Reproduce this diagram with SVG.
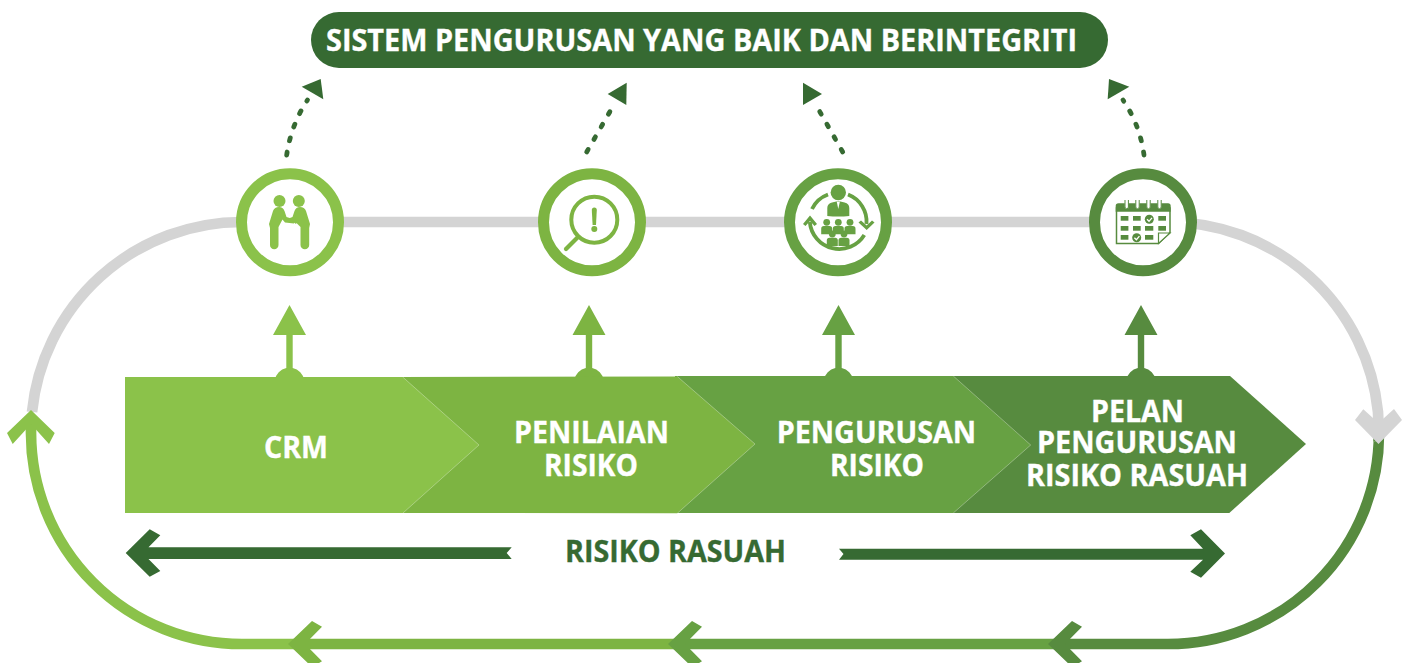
<svg xmlns="http://www.w3.org/2000/svg" width="1404" height="663" viewBox="0 0 1404 663">
<style>
text{font-family:"Open Sans","Liberation Sans",sans-serif;font-weight:700;font-size:30px;fill:#fff;stroke:#fff;stroke-width:.35}
text.dark{fill:#366a32;stroke:#366a32}
.dark{fill:#366a32}.dk{stroke:#366a32}
.c1{fill:#8bc24a}.c2{fill:#7db442}.c3{fill:#67a143}.c4{fill:#578b3f}
.s1{stroke:#8bc24a}.s2{stroke:#7db442}.s3{stroke:#67a143}.s4{stroke:#578b3f}
.track{fill:none;stroke-width:10.7}
.ring{fill:#fff;stroke-width:11}
.dots{fill:none;stroke:#366a32;stroke-width:4.800;stroke-linecap:round;stroke-dasharray:3 11.500}
.edge{fill:none;stroke:#fff;stroke-opacity:.45;stroke-width:.7}
.thin{fill:none;stroke-linecap:butt}
</style>
<defs>
<path id="chev" d="M0 0L24-23 34-17.3 17 0 34 17.3 24 23Z"/>
<path id="up" d="M0-75L16.500-45H3.200V-12A15 15 0 0 1 14.700 0H-14.700A15 15 0 0 1-3.200-12V-45H-16.500Z"/>
<g id="p"><circle cx="0" cy="0" r="3.400"/><path d="M-5.500 12V6.500Q-5.500 3.800-2.800 3.800H2.800Q5.500 3.800 5.500 6.500V12Z"/></g>
</defs>

<g id="connectors">
<path class="track" stroke="#d4d4d4" d="M242 222A211 211 0 0 0 32 412"/>
<path class="track" stroke="#d4d4d4" d="M242 222H1168A211 211 0 0 1 1378 412L1378.500 425"/>
<path class="track s4" d="M1378.500 442L1379 433A211 211 0 0 1 1168 644H1060"/>
<path class="track s3" d="M1054 644H680"/>
<path class="track s2" d="M674 644H300"/>
<path class="track s1" d="M294 644H242A211 211 0 0 1 31 433V420"/>
<polygon class="c1" points="31,410 7,433 12.700,444 31,424 49,444 54.700,433"/>
<polygon fill="#d4d4d4" points="1378.500,444 1355,420 1363.300,409.300 1378.500,423 1394,409 1402,420"/>
<use href="#chev" x="1048" y="644" class="c4"/>
<use href="#chev" x="668" y="644" class="c3"/>
<use href="#chev" x="288" y="644" class="c2"/>

<path class="dots" d="M286.700 155Q291 125 307.500 100"/>
<polygon class="dark" points="301.700,86.700 320.700,79 323.300,99.300"/>
<path class="dots" d="M586.700 152L612 108"/>
<polygon class="dark" points="607.700,94 626.700,82.700 626.300,105"/>
<path class="dots" d="M842.700 152L817.700 108"/>
<polygon class="dark" points="803,82.700 822,94 803,105"/>
<path class="dots" d="M1144 155Q1140 125 1123 100"/>
<polygon class="dark" points="1109,79 1129.300,86.700 1107.700,99.300"/>

<use href="#up" x="289.500" y="380" class="c1"/>
<use href="#up" x="589" y="380" class="c2"/>
<use href="#up" x="838.500" y="380" class="c3"/>
<use href="#up" x="1141" y="380" class="c4"/>

<path class="dark" d="M125.700 553L149.700 529.300 160.300 535.300 148.500 547.300H511.700L506.700 553 511.700 559H148.500L160.300 571 149.700 576.700Z"/>
<path class="dark" d="M1225 553.500L1201 529.300 1190.300 535.300 1203 548.700H839L843.500 554 839 559.700H1203L1190.300 571.700 1201 577.700Z"/>
</g>

<g id="title">
<rect x="311" y="12" width="797" height="56" rx="28" class="dark"/>
<text x="326" y="51" textLength="751" lengthAdjust="spacingAndGlyphs">SISTEM PENGURUSAN YANG BAIK DAN BERINTEGRITI</text>
</g>

<g id="step4">
<polygon class="c4" points="950,376 1230,376 1306,444 1229.300,513 950,513"/>
<text><tspan x="1091" y="421.700" textLength="93" lengthAdjust="spacingAndGlyphs">PELAN</tspan><tspan x="1037" y="453.300" textLength="200" lengthAdjust="spacingAndGlyphs">PENGURUSAN</tspan><tspan x="1026" y="485.700" textLength="222" lengthAdjust="spacingAndGlyphs">RISIKO RASUAH</tspan></text>
</g>
<g id="step3">
<polygon class="c3" points="675,376 953.300,376 1030.700,445 953.300,513 675,513"/>
<path class="edge" d="M953.300 376L1030.700 445 953.300 513"/>
<text><tspan x="776.700" y="443.300" textLength="199.500" lengthAdjust="spacingAndGlyphs">PENGURUSAN</tspan><tspan x="830" y="475.700" textLength="94" lengthAdjust="spacingAndGlyphs">RISIKO</tspan></text>
</g>
<g id="step2">
<polygon class="c2" points="400,377 677.300,376.500 755,444 677.300,513.300 400,513"/>
<path class="edge" d="M677.300 376.500L755 444 677.300 513.300"/>
<text><tspan x="514" y="443" textLength="155" lengthAdjust="spacingAndGlyphs">PENILAIAN</tspan><tspan x="544" y="476" textLength="94" lengthAdjust="spacingAndGlyphs">RISIKO</tspan></text>
</g>
<g id="step1">
<polygon class="c1" points="125,377 402.700,377 479,445 403,513 125,513"/>
<path class="edge" d="M402.700 377L479 445 403 513"/>
<text x="264" y="458" textLength="64" lengthAdjust="spacingAndGlyphs">CRM</text>
</g>

<g id="label-risiko-rasuah">
<text class="dark" x="565" y="562.300" textLength="221" lengthAdjust="spacingAndGlyphs">RISIKO RASUAH</text>
</g>

<g id="node-crm">
<circle class="ring s1" cx="290" cy="222.300" r="48.500"/>
<g class="c1">
<circle cx="279.500" cy="201" r="6"/><circle cx="298.800" cy="201" r="6"/>
<path d="M269 224L273 211Q274.500 207 279 207Q283 207 284.500 211L286.500 217 293 219Q296 221 294 223.500L285 222.500 282.500 219.500 278.500 227V245A4.200 4.200 0 0 1 270 245V228Z"/>
<path d="M310 224L306 211Q304.500 207 300 207Q296 207 294.500 211L292.500 217 288.500 218.500 296 224 296.500 223 300.500 227V245A4.200 4.200 0 0 0 309.200 245V228Z"/>
</g>
</g>

<g id="node-penilaian">
<circle class="ring s2" cx="592" cy="222.300" r="48.500"/>
<circle cx="594.300" cy="219.700" r="23" fill="none" stroke-width="4" class="s2"/>
<path class="s2" d="M577 238L566 249" stroke-width="4.200" stroke-linecap="round" fill="none"/>
<path class="c2" d="M591.800 210Q591.800 207.500 594.300 207.500Q596.800 207.500 596.800 210L596 225H592.600Z"/>
<circle class="c2" cx="594.300" cy="229" r="3"/>
</g>

<g id="node-pengurusan">
<circle class="ring s3" cx="838" cy="222.300" r="48.500"/>
<g class="c3">
<circle cx="838.300" cy="192.500" r="7.700"/>
<path d="M827.300 216V208Q827.300 203.500 832 202.500L838.300 201 844.600 202.500Q849.300 203.500 849.300 208V216Q838.300 217 827.300 216Z"/>
<use href="#p" x="826.700" y="222.300"/><use href="#p" x="838.300" y="222.300"/><use href="#p" x="850" y="222.300"/>
<use href="#p" x="832.300" y="234"/><use href="#p" x="844" y="234"/>
<polygon points="803,224 810,215.500 817,224 814.500,226 810,221 805.500,226"/>
<polygon points="866.700,230 858.500,222.500 861,220.500 866.700,225.500 872,220.500 874.500,222.500"/>
</g>
<path d="M836.700 201.500L838.300 209 839.900 201.500Z" fill="#fff"/>
<g class="thin s3" stroke-width="3.800">
<path d="M812 209A29 29 0 0 1 828 194.500"/>
<path d="M848 194.500A29 29 0 0 1 866.500 224"/>
<path d="M864.300 235A29.500 29.500 0 0 1 809.800 222"/>
</g>
</g>

<g id="node-pelan">
<circle class="ring s4" cx="1143" cy="222.300" r="48.500"/>
<path class="s4" fill="#fff" stroke-width="1.500" d="M1116.500 208V243.500H1158.500L1170 232.500V208Z"/>
<path class="c4" d="M1115.700 211.700V206Q1115.700 203.300 1118.500 203.300H1168Q1170.700 203.300 1170.700 206V211.700Z"/>
<path class="s4" fill="#fff" stroke-width="1.200" d="M1158.500 243.500V233H1170Z"/>
<g fill="none" stroke="#fff" stroke-width="3.800" stroke-linecap="round"><path d="M1126.700 201V207"/><path d="M1137.500 201V207"/><path d="M1148.500 201V207"/><path d="M1159.500 201V207"/></g>
<g fill="none" class="s4" stroke-width="1"><path d="M1125 200V207A1.700 1.700 0 0 0 1128.400 207V200"/><path d="M1135.800 200V207A1.700 1.700 0 0 0 1139.200 207V200"/><path d="M1146.800 200V207A1.700 1.700 0 0 0 1150.200 207V200"/><path d="M1157.800 200V207A1.700 1.700 0 0 0 1161.200 207V200"/></g>
<g class="c4">
<rect x="1120.700" y="216" width="7.700" height="4.700"/><rect x="1133" y="216" width="7.700" height="4.700"/><circle cx="1149.300" cy="219.300" r="4.500"/><rect x="1158.300" y="216" width="7.700" height="4.700"/>
<rect x="1120.700" y="226" width="7.700" height="4.700"/><rect x="1133" y="226" width="7.700" height="4.700"/><rect x="1145" y="226" width="8.300" height="4.700"/><rect x="1158.300" y="226" width="7.700" height="4.700"/>
<rect x="1120.700" y="235" width="7.700" height="4.700"/><circle cx="1136.700" cy="237.700" r="4.500"/><rect x="1145" y="235" width="8.300" height="4.700"/>
</g>
<g fill="none" stroke="#fff" stroke-width="1.300"><path d="M1147 219.300L1149 221.300 1152 217.800"/><path d="M1134.400 237.700L1136.400 239.700 1139.400 236.200"/></g>
</g>
</svg>
